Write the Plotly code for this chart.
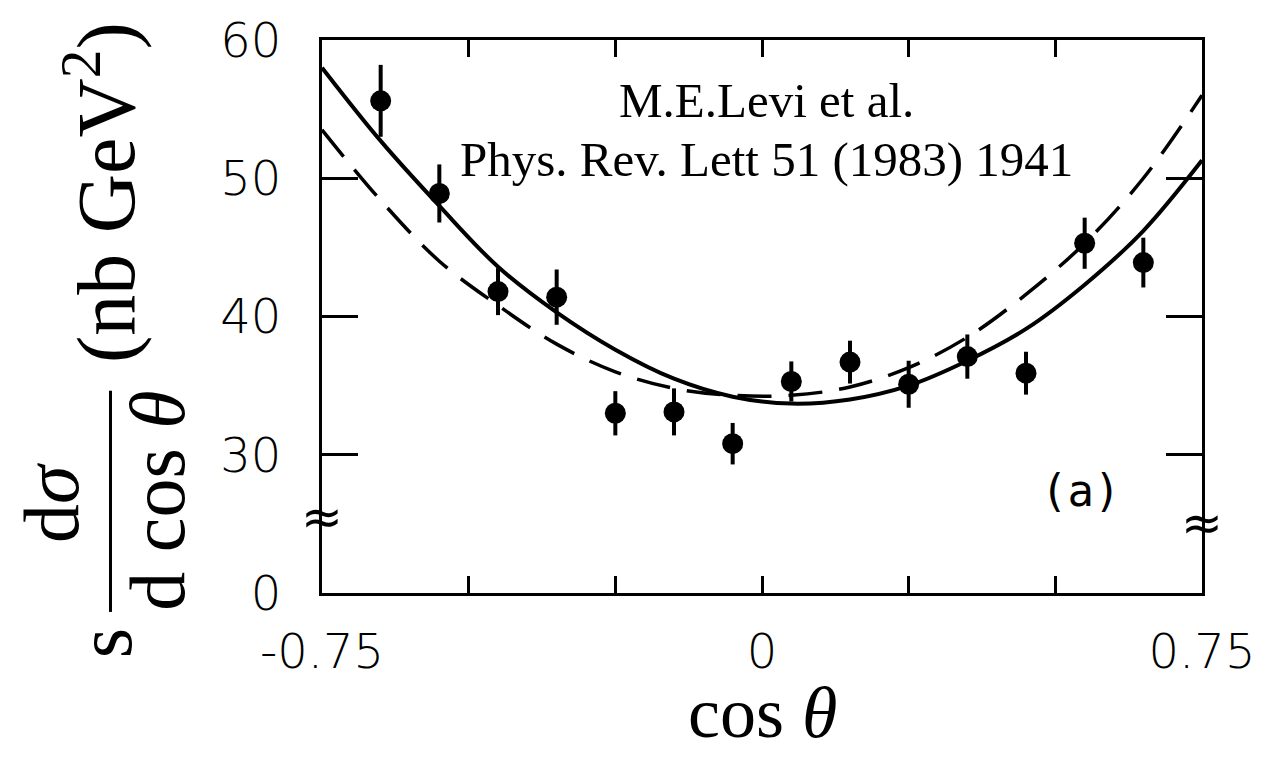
import plotly.graph_objects as go

# ---- data ----
cos_theta = [-0.65, -0.55, -0.45, -0.35, -0.25, -0.15, -0.05, 0.05, 0.15, 0.25, 0.35, 0.45, 0.55, 0.65]
xsec = [55.6, 48.9, 41.8, 41.4, 33.0, 33.1, 30.8, 35.3, 36.7, 35.1, 37.1, 35.9, 45.3, 43.9]
xsec_err = [2.6, 2.1, 1.7, 2.0, 1.6, 1.7, 1.5, 1.45, 1.55, 1.7, 1.6, 1.55, 1.85, 1.8]

curve_x = [-0.75, -0.65, -0.55, -0.45, -0.35, -0.25, -0.15, -0.05, 0.05, 0.15, 0.25, 0.35, 0.45, 0.55, 0.65, 0.75]
solid_y = [58.0, 52.7, 48.0, 43.6, 40.3, 37.6, 35.5, 34.2, 33.7, 34.0, 35.0, 36.8, 39.1, 42.3, 46.2, 51.3]
dashed_y = [53.5, 48.4, 44.0, 40.8, 38.0, 36.0, 34.8, 34.3, 34.3, 34.9, 36.3, 38.5, 41.6, 45.3, 50.0, 56.0]

x_tickvals = [-0.75, 0, 0.75]
x_ticktext = ["-0.75", "0", "0.75"]
y_tickvals = [20, 30, 40, 50, 60]
y_ticktext = ["0", "30", "40", "50", "60"]

# ---- layout geometry (pixels) ----
W, H = 1267, 761
L, R, T, B = 322, 63, 38, 168
PW, PH = W - L - R, H - T - B


def px(x):
    return (x - L) / PW


def py(y):
    return (H - B - y) / PH


fig = go.Figure()

fig.add_trace(go.Scatter(x=curve_x, y=dashed_y, mode="lines",
                         line=dict(color="black", width=3.5, dash="34px,17px", shape="spline"),
                         showlegend=False, hoverinfo="skip"))
fig.add_trace(go.Scatter(x=curve_x, y=solid_y, mode="lines",
                         line=dict(color="black", width=4, shape="spline"),
                         showlegend=False, hoverinfo="skip"))
fig.add_trace(go.Scatter(x=cos_theta, y=xsec, mode="markers",
                         marker=dict(color="black", size=21),
                         error_y=dict(type="data", array=xsec_err, color="black", thickness=4, width=0),
                         showlegend=False))

serif = "Liberation Serif"
mono = "DejaVu Sans Mono"

annotations = [
    dict(text="M.E.Levi et al.", x=px(768), y=py(99), font=dict(family=serif, size=49)),
    dict(text="Phys. Rev. Lett 51 (1983) 1941", x=px(768), y=py(158), font=dict(family=serif, size=49)),
    dict(text="(a)", x=px(1082), y=py(490), font=dict(family=mono, size=44)),
    dict(text="≈", x=px(322), y=py(517), font=dict(family="DejaVu Sans", size=50)),
    dict(text="≈", x=px(1204), y=py(523), font=dict(family="DejaVu Sans", size=50)),
    dict(text="cos <i>θ</i>", x=px(763), y=py(713), font=dict(family=serif, size=72)),
    # y-axis title built from pieces (rotated)
    dict(text="s", x=px(104), y=py(643), textangle=-90, font=dict(family=serif, size=78)),
    dict(text="d<i>σ</i>", x=px(51), y=py(503), textangle=-90, font=dict(family=serif, size=78)),
    dict(text="d cos <i>θ</i>", x=px(157), y=py(500), textangle=-90, font=dict(family=serif, size=78)),
    dict(text="(nb GeV<sup>2</sup>)", x=px(100), y=py(191), textangle=-90, font=dict(family=serif, size=82)),
]
for a in annotations:
    a.update(xref="paper", yref="paper", showarrow=False, xanchor="center", yanchor="middle")
    a["font"]["color"] = "black"

fig.update_layout(
    width=W, height=H, autosize=False,
    margin=dict(l=L, r=R, t=T, b=B, pad=0),
    paper_bgcolor="white", plot_bgcolor="white",
    annotations=annotations,
    shapes=[dict(type="line", xref="paper", yref="paper",
                 x0=px(110), x1=px(110), y0=py(390), y1=py(612),
                 line=dict(color="black", width=3))],
)

fig.update_xaxes(range=[-0.75, 0.75], tickvals=x_tickvals, ticktext=x_ticktext,
                 ticks="inside", ticklen=17, tickwidth=3, tickcolor="black",
                 minor=dict(dtick=0.25, tick0=0, ticks="inside", ticklen=17, tickwidth=3, tickcolor="black"),
                 showline=True, linewidth=3, linecolor="black", mirror="ticks",
                 showgrid=False, zeroline=False,
                 tickfont=dict(family="DejaVu Sans", size=48, color="black", weight=200),
                 ticklabelstandoff=14)
fig.update_yaxes(range=[20, 60], tickvals=y_tickvals, ticktext=y_ticktext,
                 ticks="inside", ticklen=36, tickwidth=3, tickcolor="black",
                 showline=True, linewidth=3, linecolor="black", mirror="ticks",
                 showgrid=False, zeroline=False,
                 tickfont=dict(family="DejaVu Sans", size=48, color="black", weight=200),
                 ticklabelstandoff=28)

fig.write_html("out.html", config={"displayModeBar": False},
               post_script="document.body.style.margin='0';document.body.style.overflow='hidden';")
